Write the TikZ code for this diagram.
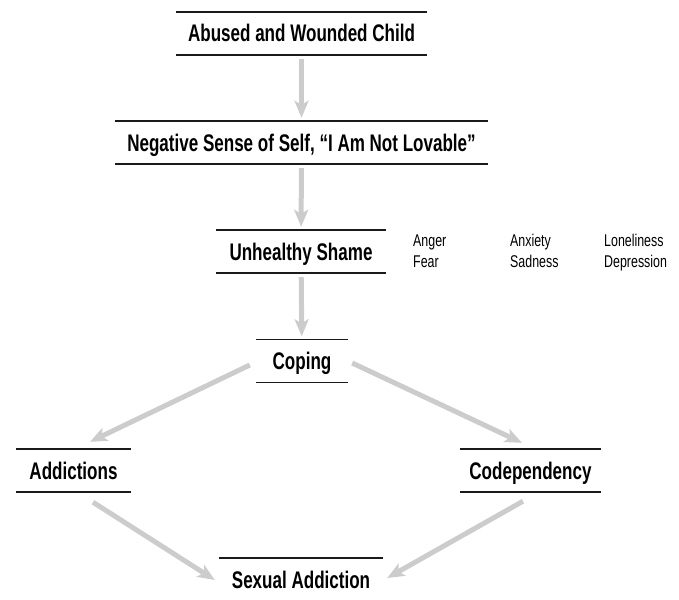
\documentclass[tikz,border=0pt]{standalone}
\usepackage{fontspec}
\setmainfont{Liberation Sans}[FakeStretch=0.71]
\newfontfamily\feelingfont{Liberation Sans}[FakeStretch=0.73]
\usetikzlibrary{arrows.meta,calc}
\definecolor{arrowgray}{HTML}{CCCCCC}
\definecolor{rulegray}{HTML}{1A1A1A}
\begin{document}
\begin{tikzpicture}[x=1pt,y=-1pt,
  stage/.style={font=\fontsize{24}{27}\selectfont\bfseries, inner sep=0pt,
    minimum height=43pt, text height=17pt, text depth=0pt},
  rule/.style={line width=1.5pt, rulegray},
  flow/.style={arrowgray, line width=5pt,
    -{Stealth[length=17pt,width=14pt,inset=4pt]}},
  feeling/.style={font=\feelingfont\fontsize{17}{20}\selectfont, inner sep=0pt, anchor=base west}]

\useasboundingbox (0,0) rectangle (679,599);

% stages of the chain
\node[stage, minimum width=251pt] (abused) at (301.5,33.5) {Abused and Wounded Child};
\node[stage, minimum width=373pt] (negative) at (301.5,142.5) {Negative Sense of Self, “I Am Not Lovable”};
\node[stage, minimum width=170pt] (shame) at (301,251.5) {Unhealthy Shame};
\node[stage, minimum width=92pt] (coping) at (302,361) {Coping};
\node[stage, minimum width=115pt] (addictions) at (73.5,470.5) {Addictions};
\node[stage, minimum width=141pt] (codep) at (530.5,470.5) {Codependency};
\node[stage, minimum width=164pt] (sexual) at (301,579.5) {Sexual Addiction};

% rules above and below each stage
\foreach \n in {abused,negative,shame,coping,addictions,codep}{
  \draw[rule] (\n.north west) -- (\n.north east) (\n.south west) -- (\n.south east);
}
\draw[rule] (sexual.north west) -- (sexual.north east);

% feelings that come with shame
\node[feeling] (anger) at (413,246) {Anger};
\node[feeling] (fear) at (413,267) {Fear};
\node[feeling] (anxiety) at (510,246) {Anxiety};
\node[feeling] (sadness) at (510,267) {Sadness};
\node[feeling] (loneliness) at (604,246) {Loneliness};
\node[feeling] (depression) at (604,267) {Depression};

% connectors
\draw[flow, shorten <=4pt, shorten >=3pt] (abused) -- (negative);
\draw[flow, shorten <=4pt, shorten >=3pt] (negative) -- (shame);
\draw[flow, shorten <=4pt, shorten >=3pt] (shame) -- (coping);
\draw[flow] ($(coping.west)+(-6,4)$) -- ($(addictions.north)+(16.5,-7)$);
\draw[flow] ($(coping.east)+(4,2)$) -- ($(codep.north)+(-8.5,-6)$);
\draw[flow] ($(addictions.south)+(19.5,10)$) -- ($(sexual.west)+(-4,0.5)$);
\draw[flow] ($(codep.south)+(-7.5,9)$) -- ($(sexual.east)+(4,-1.5)$);
\end{tikzpicture}
\end{document}
